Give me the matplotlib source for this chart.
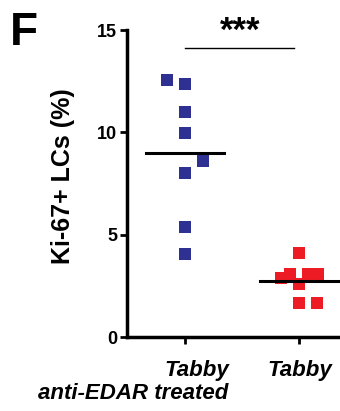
import matplotlib
matplotlib.use("Agg")
import matplotlib.pyplot as plt

plt.rcParams['font.family'] = ['Liberation Sans', 'DejaVu Sans']

# values
groups = ["Tabby\nanti-EDAR treated", "Tabby"]
blue_x = [-0.16, 0, 0, 0, 0.16, 0, 0, 0]
blue_y = [12.57, 12.37, 11.0, 9.98, 8.6, 8.03, 5.38, 4.05]
red_x = [1.0, 0.84, 0.92, 1.0, 1.08, 1.17, 1.0, 1.16]
red_y = [4.08, 2.86, 3.1, 2.58, 3.1, 3.07, 1.64, 1.64]
yticks = [0, 5, 10, 15]

fig = plt.figure(figsize=(3.4, 4.11), dpi=100)
ax = fig.add_axes([127 / 340, 1 - 337 / 411, 213 / 340, 307 / 411])

ax.scatter(blue_x, blue_y, marker="s", s=75, color="#2E3192", linewidths=0, zorder=3)
ax.scatter(red_x, red_y, marker="s", s=75, color="#ED1C24", linewidths=0, zorder=3)

blue_mean = sum(blue_y) / len(blue_y)
red_mean = sum(red_y) / len(red_y)
ax.plot([-0.34, 0.34], [blue_mean, blue_mean], color="black", lw=2.2, zorder=4)
ax.plot([0.66, 1.34], [red_mean, red_mean], color="black", lw=2.2, zorder=4)

# significance bar
ax.plot([0.0, 0.96], [14.1, 14.1], color="black", lw=1, clip_on=False)
fig.text(240 / 340, 1 - 41 / 411, "***", ha="center", va="baseline",
         fontsize=25, fontweight="bold")

ax.set_xlim(-0.509, 1.36)
ax.set_ylim(0, 15)
ax.set_yticks(yticks)
ax.set_yticklabels([str(t) for t in yticks], fontsize=13, fontweight="bold")
ax.set_xticks([0, 1])
ax.set_xticklabels(["", ""])

for s in ["top", "right"]:
    ax.spines[s].set_visible(False)
for s in ["left", "bottom"]:
    ax.spines[s].set_linewidth(2.5)
ax.tick_params(axis="both", width=2, length=5, pad=2)

fig.text(63 / 340, 1 - 176 / 411, "Ki-67+ LCs (%)", rotation=90, ha="center", va="center",
         fontsize=18, fontweight="bold")

lab = dict(fontsize=16, fontweight="bold", style="italic")
fig.text(197 / 340, 1 - 376 / 411, "Tabby", ha="center", va="baseline", **lab)
fig.text(133 / 340, 1 - 399 / 411, "anti-EDAR treated", ha="center", va="baseline", **lab)
fig.text(300 / 340, 1 - 376 / 411, "Tabby", ha="center", va="baseline", **lab)

fig.text(10 / 340, 1 - 45 / 411, "F", ha="left", va="baseline", fontsize=33, fontweight="bold")

fig.savefig("out.png", dpi=100)
